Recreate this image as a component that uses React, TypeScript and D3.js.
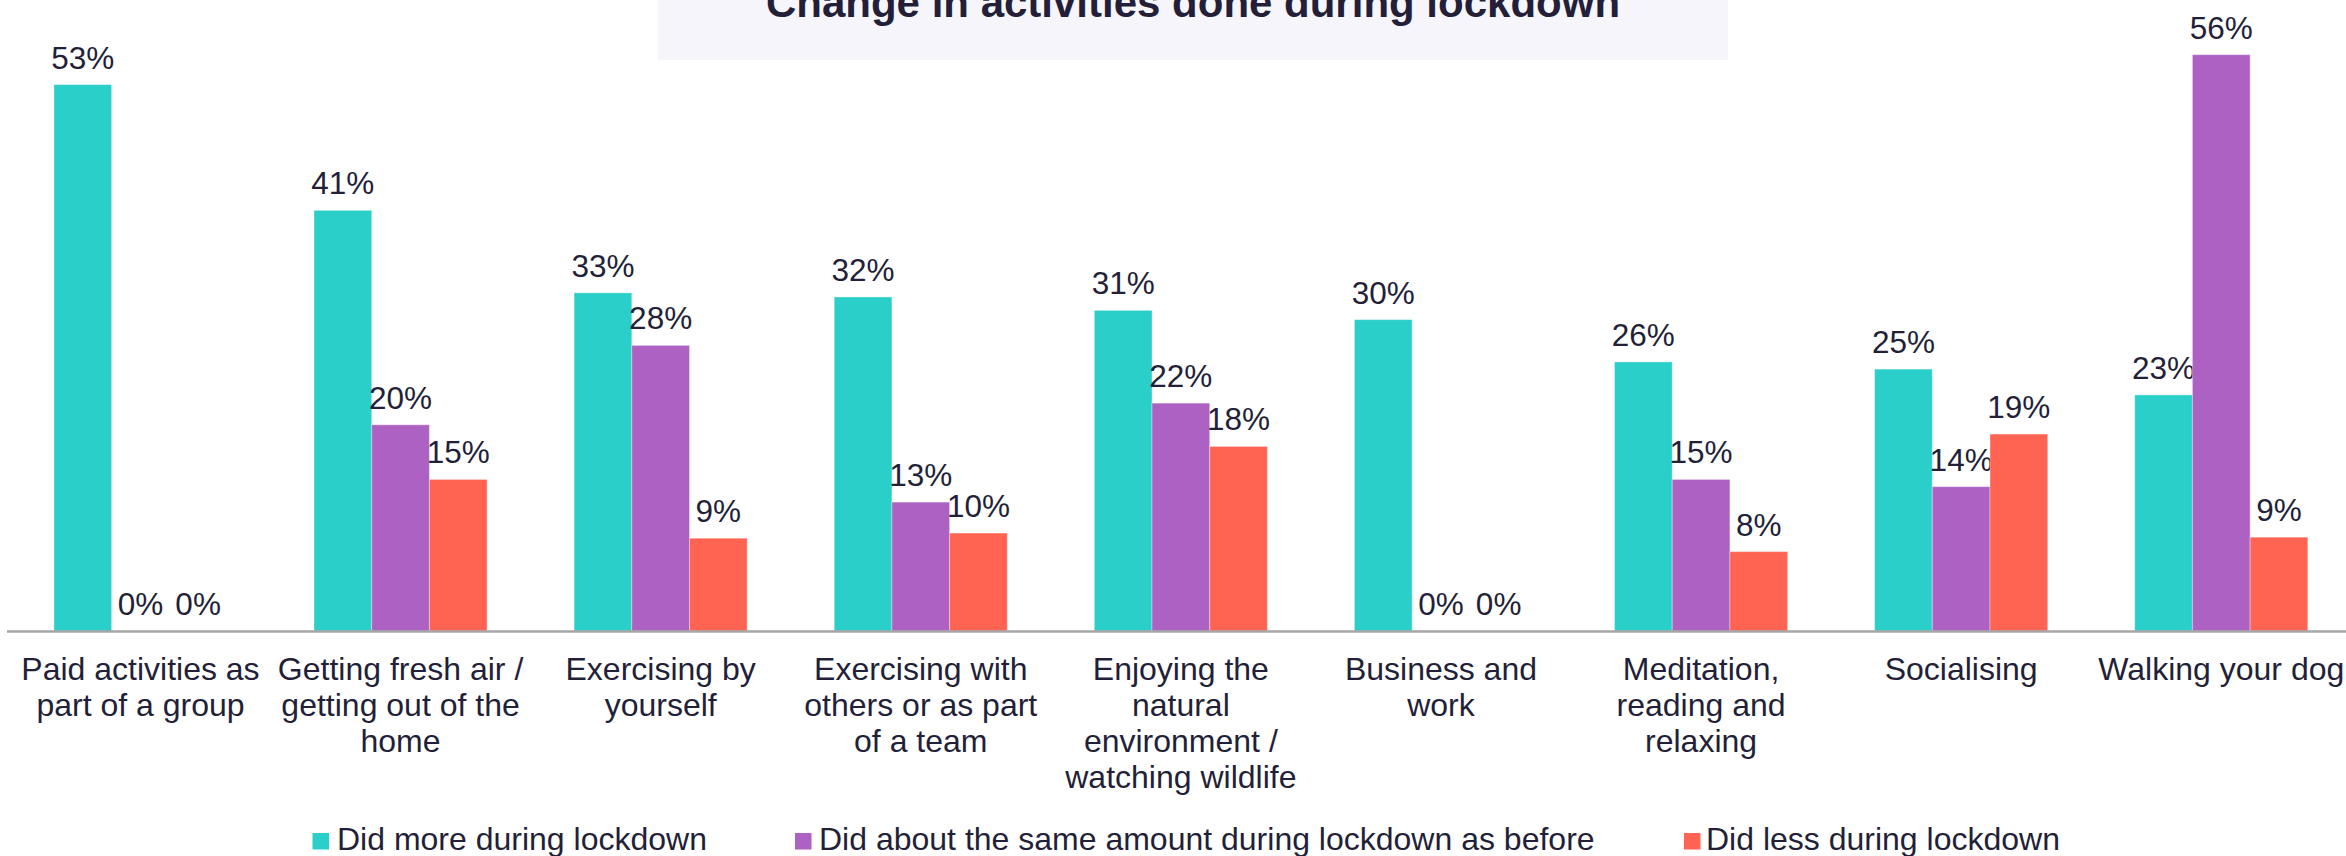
import React from "react";
import * as d3 from "d3";

const categories = [
  "Paid activities as part of a group",
  "Getting fresh air / getting out of the home",
  "Exercising by yourself",
  "Exercising with others or as part of a team",
  "Enjoying the natural environment / watching wildlife",
  "Business and work",
  "Meditation, reading and relaxing",
  "Socialising",
  "Walking your dog",
];

const categoryLines = [
  ["Paid activities as", "part of a group"],
  ["Getting fresh air /", "getting out of the", "home"],
  ["Exercising by", "yourself"],
  ["Exercising with", "others or as part", "of a team"],
  ["Enjoying the", "natural", "environment /", "watching wildlife"],
  ["Business and", "work"],
  ["Meditation,", "reading and", "relaxing"],
  ["Socialising"],
  ["Walking your dog"],
];

const seriesNames = [
  "Did more during lockdown",
  "Did about the same amount during lockdown as before",
  "Did less during lockdown",
];

const didMore = [53.0, 40.8, 32.8, 32.4, 31.1, 30.2, 26.1, 25.4, 22.9];
const didSame = [0, 20.0, 27.7, 12.5, 22.1, 0, 14.7, 14.0, 55.9];
const didLess = [0, 14.7, 9.0, 9.5, 17.9, 0, 7.7, 19.1, 9.1];

const seriesValues = [didMore, didSame, didLess];
const seriesColors = ["#2BCFCA", "#AD61C3", "#FF6453"];

const title = "Change in activities done during lockdown";

const W = 2346;
const H = 856;
const FONT = "'Liberation Sans', Arial, Helvetica, sans-serif";
const TEXT = "#231F38";

export default function App() {
  const x = d3
    .scaleBand<string>()
    .domain(categories)
    .range([10.4, 10.4 + 9 * 260.1])
    .paddingInner(0)
    .paddingOuter(0);

  const xs = d3
    .scaleBand<string>()
    .domain(seriesNames)
    .range([0, x.bandwidth()])
    .paddingInner(0)
    .paddingOuter(0.754);

  const y = d3.scaleLinear().domain([0, 60]).range([631, 631 - 618.6]);

  const legendPos = [
    { sq: 312.5, tx: 337 },
    { sq: 795, tx: 819 },
    { sq: 1684, tx: 1706 },
  ];

  return (
    <svg
      width={W}
      height={H}
      style={{ position: "absolute", left: 0, top: 0, background: "#fff" }}
      fontFamily={FONT}
    >
      <rect x={0} y={0} width={W} height={H} fill="#fff" />
      {/* title box */}
      <rect x={658} y={-10} width={1070} height={70} fill="#F6F5FB" />
      <text
        x={1193}
        y={17}
        textAnchor="middle"
        fontSize={42}
        fontWeight="bold"
        fill={TEXT}
      >
        {title}
      </text>

      {/* bars */}
      {categories.map((c, ci) => (
        <g key={c} transform={`translate(${x(c)},0)`}>
          {seriesNames.map((s, si) => {
            const v = seriesValues[si][ci];
            const bx = xs(s)!;
            const bw = xs.bandwidth();
            return (
              <g key={s}>
                <rect
                  x={bx}
                  y={y(v)}
                  width={bw}
                  height={y(0) - y(v)}
                  fill={seriesColors[si]}
                  stroke="#ffffff"
                  strokeOpacity={0.35}
                  strokeWidth={1}
                />
                <text
                  x={bx + bw / 2}
                  y={y(v) - 16}
                  textAnchor="middle"
                  fontSize={31.5}
                  fill={TEXT}
                >
                  {`${Math.round(v)}%`}
                </text>
              </g>
            );
          })}
        </g>
      ))}

      {/* axis line */}
      <line x1={7} x2={W} y1={631.5} y2={631.5} stroke="#A6A6A6" strokeWidth={2.5} />

      {/* category labels */}
      {categories.map((c, ci) => (
        <text
          key={c}
          x={x(c)! + x.bandwidth() / 2}
          y={680}
          textAnchor="middle"
          fontSize={32}
          fill={TEXT}
        >
          {categoryLines[ci].map((ln, li) => (
            <tspan key={li} x={x(c)! + x.bandwidth() / 2} y={680 + li * 36}>
              {ln}
            </tspan>
          ))}
        </text>
      ))}

      {/* legend */}
      {seriesNames.map((s, si) => (
        <g key={s}>
          <rect
            x={legendPos[si].sq}
            y={833}
            width={16.5}
            height={16.5}
            fill={seriesColors[si]}
          />
          <text x={legendPos[si].tx} y={850} fontSize={32} fill={TEXT}>
            {s}
          </text>
        </g>
      ))}
    </svg>
  );
}
